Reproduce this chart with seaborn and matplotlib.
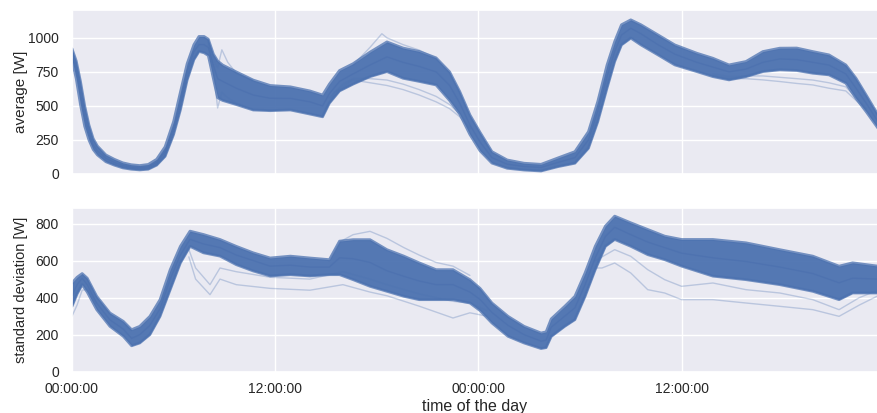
import matplotlib
matplotlib.use("Agg")
import matplotlib.pyplot as plt
import seaborn as sns
import numpy as np

# ---------------- data (hours since 00:00 of day 1) ----------------
avg_hours = [0, 0.25, 0.5, 0.75, 1.0, 1.25, 1.5, 2.0, 2.5, 3.0, 3.5, 4.0, 4.5, 5.0, 5.5, 6.0,
             6.4, 6.8, 7.2, 7.5, 7.8, 8.05, 8.35, 8.6, 8.9, 9.7, 10.7, 11.7, 12.9, 14.05, 14.8,
             15.2, 15.8, 16.6, 17.6, 18.6, 19.55, 20.5, 21.5, 22.3, 22.9, 23.5, 24.1, 24.8,
             25.7, 26.7, 27.7, 28.7, 29.7, 30.5, 31.05, 31.6, 32.05, 32.45, 33.0, 33.6, 34.6,
             35.6, 36.9, 37.85, 38.8, 39.8, 40.8, 41.8, 42.8, 43.75, 44.7, 45.7, 46.3, 46.9, 47.6]
avg_mid = [880, 770, 590, 420, 300, 215, 170, 115, 85, 62, 50, 45, 52, 85, 165, 336,
           532, 752, 899, 950, 950, 930, 800, 700, 680, 630, 580, 556, 555, 530, 500,
           590, 680, 735, 800, 860, 820, 790, 750, 650, 520, 360, 235, 120,
           72, 55, 48, 85, 120, 250, 460, 715, 900, 1020, 1070, 1030, 950,
           880, 820, 785, 750, 770, 820, 845, 840, 820, 800, 735, 630, 520, 385]
avg_low = [840, 700, 510, 350, 250, 180, 140, 90, 65, 45, 35, 30, 35, 65, 130, 290,
           470, 690, 840, 900, 890, 870, 700, 560, 540, 510, 470, 465, 470, 440, 420,
           520, 610, 660, 715, 752, 703, 680, 654, 540, 440, 290, 170, 80,
           42, 29, 22, 54, 79, 189, 384, 632, 826, 948, 998, 948, 875,
           801, 752, 715, 691, 715, 752, 765, 760, 740, 728, 667, 556, 458, 336]
avg_high = [920, 830, 680, 500, 360, 260, 205, 140, 108, 82, 68, 62, 70, 108, 200, 385,
            600, 810, 950, 1010, 1010, 990, 880, 830, 800, 750, 690, 650, 640, 610, 580,
            660, 760, 810, 895, 970, 925, 900, 853, 750, 605, 434, 305, 164,
            103, 79, 71, 118, 164, 311, 532, 801, 973, 1096, 1132, 1096, 1022,
            948, 887, 850, 801, 826, 899, 924, 925, 899, 875, 801, 703, 580, 434]

avg_out_hours_1 = [8.05, 8.35, 8.6, 8.85, 9.2, 9.7, 10.7]
avg_out_1 = [960, 760, 485, 600, 560, 520, 470]
avg_out_hours_2 = [8.05, 8.35, 8.6, 8.85, 9.2, 9.7, 10.7]
avg_out_2 = [990, 840, 780, 912, 820, 740, 690]
avg_out_hours_3 = [14.8, 15.5, 16.6, 17.6, 18.6, 19.55, 20.5, 21.5, 22.3, 22.9, 23.5]
avg_out_3 = [430, 600, 690, 670, 650, 620, 580, 530, 480, 420, 330]
avg_out_hours_4 = [15.2, 16.0, 16.6, 17.6, 18.6, 19.55, 20.5, 21.5, 22.3, 22.9, 23.5]
avg_out_4 = [560, 660, 700, 700, 690, 660, 620, 570, 510, 440, 340]
avg_out_hours_5 = [16.6, 17.6, 18.3, 18.6, 19.55, 20.5, 21.5]
avg_out_5 = [800, 930, 1030, 1000, 950, 910, 850]
avg_out_hours_6 = [37.85, 38.8, 39.8, 40.8, 41.8, 42.8, 43.75, 44.7, 45.7, 46.3, 46.9]
avg_out_6 = [720, 700, 700, 691, 679, 665, 654, 630, 610, 540, 470]
avg_out_hours_7 = [37.85, 38.8, 39.8, 40.8, 41.8, 42.8, 43.75, 44.7, 45.7, 46.3, 46.9]
avg_out_7 = [735, 715, 720, 720, 710, 700, 690, 670, 640, 560, 480]

std_hours = [0, 0.3, 0.6, 0.9, 1.46, 2.24, 3.03, 3.52, 4.0, 4.6, 5.2, 5.8, 6.4, 6.97, 7.76,
             8.74, 9.7, 10.7, 11.7, 12.9, 14.05, 15.2, 15.8, 16.6, 17.6, 18.6, 19.6, 20.5,
             21.5, 22.5, 23.5, 24.1, 24.8, 25.75, 26.7, 27.7, 28.0, 28.3, 29.1, 29.7, 30.3,
             30.9, 31.5, 32.05, 33.0, 34.0, 35.0, 36.0, 37.85, 39.8, 41.8, 43.75, 45.3,
             46.1, 47.6]
std_mid = [410, 470, 505, 470, 370, 280, 230, 180, 200, 250, 340, 500, 630, 715, 690,
           670, 630, 600, 570, 575, 565, 565, 615, 610, 590, 545, 515, 490,
           470, 470, 430, 390, 320, 250, 200, 165, 170, 240, 300, 345, 470,
           615, 730, 780, 740, 700, 670, 640, 615, 595, 565, 530, 480,
           505, 500]
std_low = [353, 420, 470, 430, 335, 245, 191, 140, 155, 200, 299, 443, 587, 677, 642,
           624, 578, 544, 517, 524, 517, 524, 524, 497, 461, 434, 407, 389,
           389, 389, 371, 330, 263, 191, 155, 125, 130, 190, 245, 281, 407,
           551, 677, 714, 677, 632, 605, 570, 516, 497, 470, 434, 389,
           425, 425]
std_high = [479, 510, 530, 505, 407, 317, 272, 227, 245, 299, 389, 551, 677, 759, 741,
            714, 677, 642, 614, 624, 614, 605, 705, 713, 713, 659, 624, 588,
            551, 551, 497, 450, 371, 299, 245, 209, 215, 285, 353, 407, 533,
            677, 786, 840, 804, 768, 732, 714, 714, 696, 659, 624, 570,
            588, 570]

std_out_hours_1 = [0, 0.3, 0.6, 0.9, 1.46]
std_out_1 = [300, 360, 440, 445, 370]
std_out_hours_2 = [6.9, 7.3, 8.15, 8.74, 9.7, 11.7, 14.05, 16.0, 17.6, 18.6, 20.5, 22.5, 23.5, 24.5]
std_out_2 = [660, 560, 470, 560, 540, 510, 500, 540, 500, 470, 420, 380, 370, 330]
std_out_hours_3 = [6.9, 7.3, 8.15, 8.74, 9.7, 11.7, 14.05, 16.0, 17.6, 18.6, 20.5, 22.5, 23.5, 24.5]
std_out_3 = [620, 500, 416, 500, 470, 450, 440, 470, 430, 410, 354, 290, 318, 300]
std_out_hours_4 = [15.2, 15.8, 16.6, 17.6, 18.6, 19.6, 20.5, 21.5, 22.5, 23.5]
std_out_4 = [600, 700, 740, 758, 720, 670, 630, 590, 570, 520]
std_out_hours_5 = [30.9, 31.3, 32.05, 33.0, 34.0, 35.0, 36.0, 37.85, 39.8, 41.8, 43.75, 45.3, 46.5, 47.6]
std_out_5 = [600, 620, 659, 623, 551, 497, 461, 479, 443, 425, 389, 335, 400, 440]
std_out_hours_6 = [30.9, 31.3, 32.05, 33.0, 34.0, 35.0, 36.0, 37.85, 39.8, 41.8, 43.75, 45.3, 46.5, 47.6]
std_out_6 = [560, 560, 587, 533, 443, 425, 389, 389, 371, 353, 335, 299, 360, 410]

x_ticks = [0, 12, 24, 36]
x_tick_labels = ["00:00:00", "12:00:00", "00:00:00", "12:00:00"]
avg_yticks = [0, 250, 500, 750, 1000]
std_yticks = [0, 200, 400, 600, 800]

# ---------------- plot ----------------
sns.set_theme(style="darkgrid")
plt.rcParams["font.family"] = ["Liberation Sans", "DejaVu Sans"]
plt.rcParams["text.color"] = "#262626"
plt.rcParams["axes.labelcolor"] = "#262626"
plt.rcParams["xtick.color"] = "#262626"
plt.rcParams["ytick.color"] = "#262626"

blue = "#4c72b0"
fig, (ax1, ax2) = plt.subplots(2, 1, figsize=(8.78, 4.13), dpi=100, sharex=True)
fig.subplots_adjust(left=0.082, right=1.0, top=0.976, bottom=0.100, hspace=0.205)


def draw_panel(ax, hours, low, mid, high, outliers):
    for oh, ov in outliers:
        sns.lineplot(x=oh, y=ov, ax=ax, color=blue, alpha=0.3, linewidth=1.0)
    ax.fill_between(hours, low, high, color=blue, alpha=0.95, linewidth=0)
    for series in (low, high):
        sns.lineplot(x=hours, y=series, ax=ax, color=blue, alpha=0.75, linewidth=2.0)
    sns.lineplot(x=hours, y=mid, ax=ax, color="#4a6fae", alpha=0.6, linewidth=1.0)


draw_panel(ax1, avg_hours, avg_low, avg_mid, avg_high,
           [(avg_out_hours_1, avg_out_1), (avg_out_hours_2, avg_out_2),
            (avg_out_hours_3, avg_out_3), (avg_out_hours_4, avg_out_4),
            (avg_out_hours_5, avg_out_5), (avg_out_hours_6, avg_out_6),
            (avg_out_hours_7, avg_out_7)])
draw_panel(ax2, std_hours, std_low, std_mid, std_high,
           [(std_out_hours_1, std_out_1), (std_out_hours_2, std_out_2),
            (std_out_hours_3, std_out_3), (std_out_hours_4, std_out_4),
            (std_out_hours_5, std_out_5), (std_out_hours_6, std_out_6)])

ax1.set_ylim(0, 1205)
ax1.set_yticks(avg_yticks)
ax1.set_ylabel("average [W]", fontsize=11)
ax2.set_ylim(0, 886)
ax2.set_yticks(std_yticks)
ax2.set_ylabel("standard deviation [W]", fontsize=10.5)

ax2.set_xlim(0, 47.6)
ax2.set_xticks(x_ticks)
ax2.set_xticklabels(x_tick_labels)
ax2.set_xlabel("time of the day", fontsize=11.5, labelpad=2)

for ax in (ax1, ax2):
    ax.tick_params(axis="y", labelsize=10, pad=3.5)
    ax.tick_params(axis="x", labelsize=10, pad=1.5)
    ax.yaxis.set_label_coords(-0.055, 0.5)

fig.savefig("out.png", dpi=100)
